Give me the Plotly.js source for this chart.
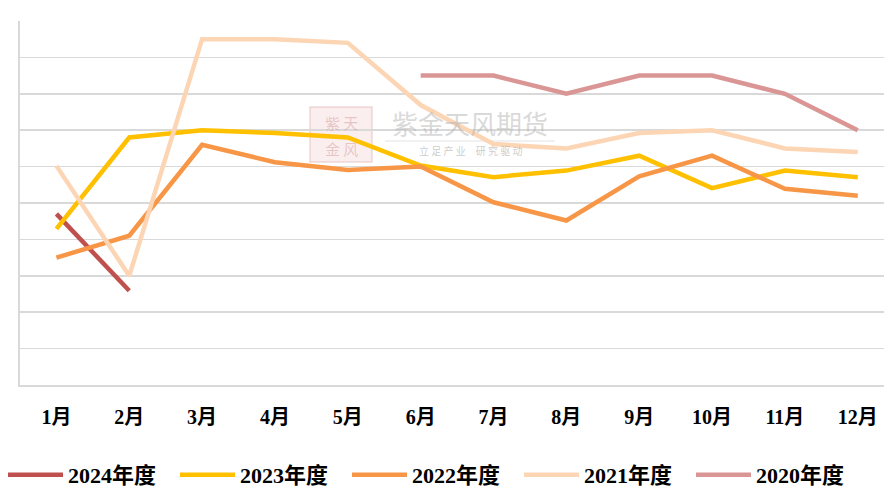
<!DOCTYPE html>
<html>
<head>
<meta charset="utf-8">
<script src="https://cdn.plot.ly/plotly-3.0.1.min.js"></script>
<style>
html,body{margin:0;padding:0;background:#fff;}
#chart{width:884px;height:489px;}
</style>
</head>
<body>
<div id="chart"></div>
<script>
const months = ["1月","2月","3月","4月","5月","6月","7月","8月","9月","10月","11月","12月"];
const seriesNames = ["2024年度","2023年度","2022年度","2021年度","2020年度"];
const v2024 = [47, 25.9, null, null, null, null, null, null, null, null, null, null];
const v2023 = [42.9, 68, 70, 69.2, 68, 60.3, 57.1, 58.9, 63, 54.1, 58.9, 57.1];
const v2022 = [35, 41, 66, 61.2, 59.1, 60, 50.2, 45.2, 57.3, 63, 53.9, 52];
const v2021 = [60.2, 30, 95, 95, 94, 76.9, 66.2, 65, 69.2, 70, 65, 64];
const v2020 = [null, null, null, null, null, 85, 85, 80, 85, 85, 80, 70];
const colors = ["#C0504D", "#FFC000", "#F79646", "#FCD5B5", "#D99694"];

const allVals = [v2024, v2023, v2022, v2021, v2020];
const xIdx = months.map((m, i) => i);
const font = "'Liberation Serif', 'Times New Roman', 'Noto Sans CJK SC', serif";

const traces = allVals.map((vals, k) => ({
  type: "scatter",
  mode: "lines",
  x: xIdx,
  y: vals,
  name: seriesNames[k],
  line: {color: colors[k], width: 4.5},
  connectgaps: false,
  hoverinfo: "skip"
}));

const layout = {
  width: 884, height: 489,
  margin: {l: 20, r: 0, t: 21, b: 104},
  paper_bgcolor: "#ffffff",
  plot_bgcolor: "#ffffff",
  showlegend: true,
  legend: {
    orientation: "h",
    x: 3/884, xref: "container", xanchor: "left",
    y: 14/489, yref: "container", yanchor: "middle",
    font: {family: font, size: 22, color: "#000", weight: "bold"},
    entrywidth: 102, entrywidthmode: "pixels",
    itemwidth: 55,
    tracegroupgap: 0,
    borderwidth: 0
  },
  xaxis: {
    range: [-0.5, 11.36],
    tickmode: "array",
    tickvals: xIdx,
    ticktext: months,
    tickfont: {family: font, size: 20, color: "#000", weight: "bold"},
    ticks: "",
    ticklabelstandoff: 13,
    showgrid: false,
    zeroline: false,
    showline: true,
    linecolor: "#d9d9d9",
    linewidth: 2,
    fixedrange: true
  },
  yaxis: {
    range: [0, 100],
    dtick: 10,
    tick0: 0,
    showticklabels: false,
    ticks: "",
    showgrid: true,
    gridcolor: "#d9d9d9",
    gridwidth: 1.5,
    zeroline: false,
    showline: true,
    linecolor: "#d9d9d9",
    linewidth: 2,
    fixedrange: true
  },
  shapes: [
    {type: "rect", xref: "paper", yref: "paper", x0: 290/864, x1: 352/864, y0: (385-162)/364, y1: (385-107)/364,
     fillcolor: "rgba(240,200,200,0.3)", line: {color: "rgba(220,170,170,0.45)", width: 1.5}, layer: "below"},
    {type: "line", xref: "paper", yref: "paper", x0: 365/864, x1: 535/864, y0: (385-141)/364, y1: (385-141)/364,
     line: {color: "rgba(200,200,200,0.5)", width: 1}, layer: "below"}
  ],
  annotations: [
    {xref: "paper", yref: "paper", x: 321/864, y: (385-111)/364, text: "紫 天", showarrow: false, borderpad: 0,
     font: {family: "'Noto Sans CJK SC', sans-serif", size: 15, color: "rgba(200,120,120,0.35)"}},
    {xref: "paper", yref: "paper", x: 321/864, y: (385-137)/364, text: "金 风", showarrow: false, borderpad: 0,
     font: {family: "'Noto Sans CJK SC', sans-serif", size: 15, color: "rgba(200,120,120,0.35)"}},
    {xref: "paper", yref: "paper", x: 450/864, y: (385-103)/364, text: "紫金天风期货", showarrow: false, borderpad: 0,
     font: {family: "'Noto Sans CJK SC', sans-serif", size: 26, color: "rgba(180,180,180,0.5)"}},
    {xref: "paper", yref: "paper", x: 450/864, y: (385-150)/364, text: "立 足 产 业　研 究 驱 动", showarrow: false, borderpad: 0,
     font: {family: "'Noto Sans CJK SC', sans-serif", size: 10, color: "rgba(170,170,170,0.6)"}}
  ]
};

Plotly.newPlot("chart", traces, layout, {staticPlot: true, displayModeBar: false});
</script>
</body>
</html>
